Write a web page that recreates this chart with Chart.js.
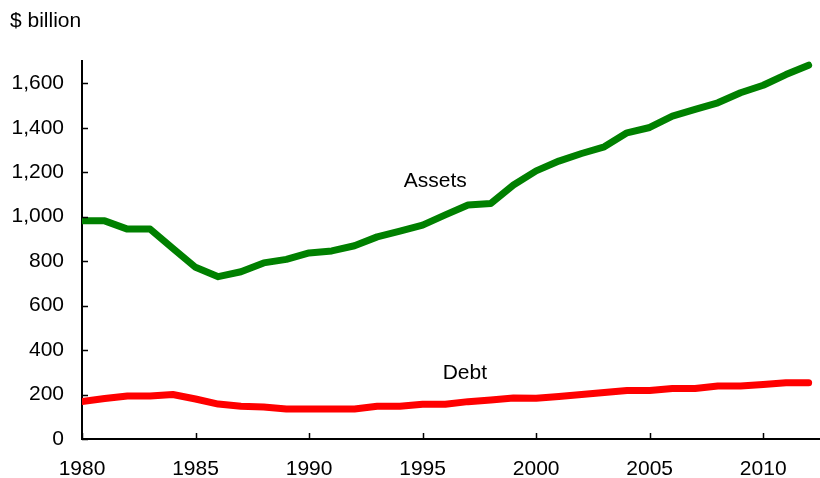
<!DOCTYPE html>
<html>

<head>
  <meta charset="utf-8" />
  <style>
    body { margin: 0; background: #fff; }
    #box { width: 820px; height: 478px; }
  </style>
</head>

<script src="https://cdn.jsdelivr.net/npm/chart.js"></script>

<body>
  <div id="box"><canvas id="myChart"></canvas></div>

  <script>
    // data, $ billion
    var years = [1980, 1981, 1982, 1983, 1984, 1985, 1986, 1987, 1988, 1989,
      1990, 1991, 1992, 1993, 1994, 1995, 1996, 1997, 1998, 1999,
      2000, 2001, 2002, 2003, 2004, 2005, 2006, 2007, 2008, 2009,
      2010, 2011, 2012];
    var assets = [981, 981, 944, 944, 857, 772, 730, 752, 792, 808,
      837, 846, 869, 909, 935, 962, 1008, 1052, 1059, 1142,
      1206, 1250, 1284, 1314, 1377, 1401, 1452, 1482, 1512, 1557,
      1591, 1639, 1681];
    var debt = [169, 182, 193, 193, 200, 180, 157, 147, 144, 135,
      135, 135, 135, 147, 147, 156, 156, 168, 175, 184,
      183, 191, 200, 209, 218, 218, 227, 227, 238, 238,
      245, 253, 253];
    var yTicks = [0, 200, 400, 600, 800, 1000, 1200, 1400, 1600];
    var xTicks = [1980, 1985, 1990, 1995, 2000, 2005, 2010];

    // series labels, placed in data units
    var seriesLabels = [
      { text: 'Assets', x: 1995.56, y: 1135 },
      { text: 'Debt', x: 1996.86, y: 271 }
    ];

    var FONT = '"Liberation Sans", Arial, sans-serif';

    function pts(vals) {
      return years.map(function (yr, i) { return { x: yr, y: vals[i] }; });
    }

    // tick marks drawn inward + text labels
    var extras = {
      id: 'extras',
      afterDraw: function (chart) {
        var c = chart.ctx;
        var area = chart.chartArea;
        var xs = chart.scales.x, ys = chart.scales.y;
        c.save();
        c.strokeStyle = '#000';
        c.lineWidth = 1.5;
        c.beginPath();
        yTicks.forEach(function (v) {
          var py = Math.round(ys.getPixelForValue(v)) + 0.5;
          c.moveTo(area.left, py);
          c.lineTo(area.left + 6, py);
        });
        xTicks.forEach(function (v) {
          var px = Math.round(xs.getPixelForValue(v)) + 0.5;
          c.moveTo(px, area.bottom);
          c.lineTo(px, area.bottom - 6);
        });
        c.stroke();

        c.fillStyle = '#000';
        c.font = '21px ' + FONT;
        c.textBaseline = 'alphabetic';
        c.textAlign = 'left';
        c.fillText('$ billion', 10, 27);
        c.textAlign = 'center';
        seriesLabels.forEach(function (l) {
          c.fillText(l.text, xs.getPixelForValue(l.x), ys.getPixelForValue(l.y));
        });
        c.restore();
      }
    };

    const ctx = document.getElementById('myChart');
    new Chart(ctx, {
      type: 'line',
      data: {
        datasets: [{
          label: 'Assets',
          data: pts(assets),
          borderColor: '#008000',
          borderWidth: 7,
          pointRadius: 0,
          tension: 0,
          borderCapStyle: 'round',
          borderJoinStyle: 'round'
        }, {
          label: 'Debt',
          data: pts(debt),
          borderColor: '#ff0000',
          borderWidth: 7,
          pointRadius: 0,
          tension: 0,
          borderCapStyle: 'round',
          borderJoinStyle: 'round'
        }]
      },
      options: {
        responsive: true,
        maintainAspectRatio: false,
        animation: false,
        layout: { padding: { top: 61, right: 0, bottom: 0, left: 0 } },
        plugins: {
          legend: { display: false },
          tooltip: { enabled: false }
        },
        scales: {
          x: {
            type: 'linear',
            min: 1980,
            max: 2012.5,
            afterBuildTicks: function (scale) {
              scale.ticks = xTicks.map(function (v) { return { value: v }; });
            },
            afterFit: function (scale) { scale.height = 39; },
            grid: { display: false, drawTicks: false },
            border: { display: true, color: '#000', width: 2 },
            ticks: {
              padding: 18,
              color: '#000',
              font: { family: FONT, size: 21 },
              maxRotation: 0,
              callback: function (v) { return String(v); }
            }
          },
          y: {
            min: 0,
            max: 1700,
            afterBuildTicks: function (scale) {
              scale.ticks = yTicks.map(function (v) { return { value: v }; });
            },
            afterFit: function (scale) { scale.width = 82; },
            grid: { display: false, drawTicks: false },
            border: { display: true, color: '#000', width: 2 },
            ticks: {
              padding: 18,
              color: '#000',
              font: { family: FONT, size: 21 },
              callback: function (v) { return v.toLocaleString('en-US'); }
            }
          }
        }
      },
      plugins: [extras]
    });
  </script>

</body>

</html>
